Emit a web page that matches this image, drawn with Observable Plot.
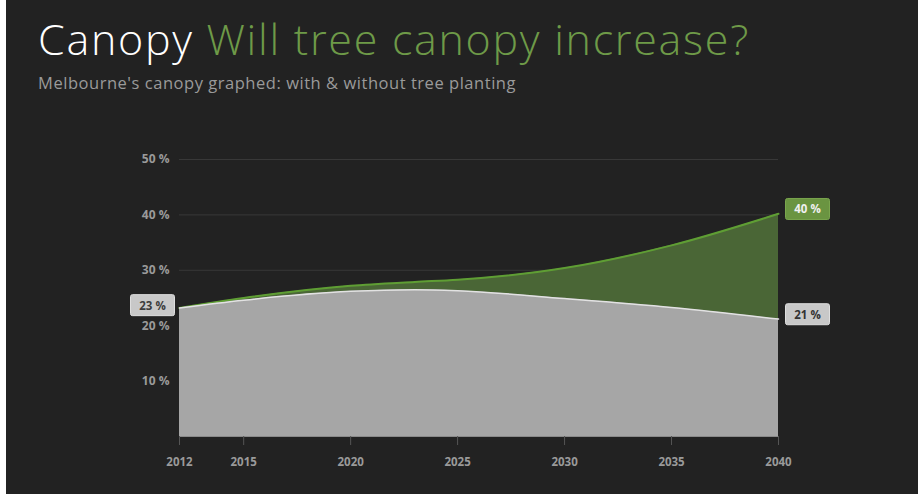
<!DOCTYPE html>
<html>
<head>
<meta charset="utf-8">
<script src="https://cdn.jsdelivr.net/npm/d3@7"></script>
<script src="https://cdn.jsdelivr.net/npm/@observablehq/plot@0.6"></script>
<style>
  html, body { margin: 0; padding: 0; background: #ffffff; }
  #frame { position: absolute; left: 6px; top: 0; width: 912px; height: 494px; background: #222222; overflow: hidden; }
  #title { position: absolute; left: 32px; top: 9px; font-family: "Open Sans", Lato, sans-serif; font-weight: 300; font-size: 43px; color: #ffffff; white-space: nowrap; }
  #title .q { color: #6e9a48; }
  #subtitle { position: absolute; left: 32px; top: 71px; font-family: "Open Sans", Lato, sans-serif; font-weight: 400; font-size: 16.5px; color: #9a9a9a; white-space: nowrap; }
  #chart { position: absolute; left: 0; top: 0; }
</style>
</head>
<body>
<div id="frame">
  <div id="title">Canopy <span class="q">Will tree canopy increase?</span></div>
  <div id="subtitle">Melbourne's canopy graphed: with &amp; without tree planting</div>
  <div id="chart"></div>
</div>
<script>
const years = [2012, 2015, 2020, 2023, 2025, 2030, 2035, 2040];
const withoutPlanting = [23.2, 24.6, 26.2, 26.5, 26.3, 24.9, 23.3, 21.2];
const withPlanting = [23.2, 25.0, 27.2, 27.9, 28.3, 30.4, 34.5, 40.2];
const xTicks = [2012, 2015, 2020, 2025, 2030, 2035, 2040];
const yTicks = [10, 20, 30, 40, 50];
const startLabel = ["23 %"];
const endLabels = ["40 %", "21 %"];

// fit title / subtitle widths to the reference
function fitWidth(el, target) {
  const w = el.getBoundingClientRect().width;
  const n = el.textContent.length;
  el.style.letterSpacing = ((target - w) / n) + "px";
}
fitWidth(document.getElementById("title"), 712);
fitWidth(document.getElementById("subtitle"), 478);

const rows = years.map((y, i) => ({year: y, without: withoutPlanting[i], with: withPlanting[i]}));
const first = rows[0];
const last = rows[rows.length - 1];
const labelsLeft = [{year: first.year, value: first.without, text: startLabel[0], bg: "#c8c8c8", border: "#dedede", fg: "#3c3c3c"}];
const labelsRight = [
  {year: last.year, value: last.with, text: endLabels[0], bg: "#6a9441", border: "#7aa64e", fg: "#f0f0f0"},
  {year: last.year, value: last.without, text: endLabels[1], bg: "#c8c8c8", border: "#dedede", fg: "#333333"}
];

const chart = Plot.plot({
  width: 912,
  height: 494,
  marginLeft: 173,
  marginRight: 140,
  marginTop: 159,
  marginBottom: 58,
  style: {background: "transparent", color: "#9a9a9a", fontFamily: "'Open Sans', sans-serif", fontSize: "12px", fontWeight: "700"},
  x: {domain: [2012, 2040], label: null},
  y: {domain: [0, 50], ticks: yTicks, tickFormat: d => `${d} %`, tickSize: 0, tickPadding: 10, label: null},
  marks: [
    Plot.gridY(yTicks, {stroke: "#383838", strokeOpacity: 1}),
    Plot.areaY(rows, {x: "year", y1: "without", y2: "with", fill: "#4a6636", curve: "monotone-x"}),
    Plot.lineY(rows, {x: "year", y: "with", stroke: "#5f9e34", strokeWidth: 2, curve: "monotone-x"}),
    Plot.areaY(rows, {x: "year", y: "without", fill: "#a6a6a6", curve: "monotone-x"}),
    Plot.lineY(rows, {x: "year", y: "without", stroke: "#e2e2e2", strokeWidth: 1.5, curve: "monotone-x"}),
    Plot.ruleY([0], {stroke: "#8a8a8a"}),
    Plot.axisX({ticks: xTicks, tickFormat: d => String(d), tickSize: 9, tickPadding: 12, stroke: "#555", fill: "#9a9a9a", fontSize: 11.5}),
    Plot.text(labelsLeft, {x: "year", y: "value", text: "text", dx: -27, dy: -2, fill: "fg", fontSize: 11.5, fontWeight: 700}),
    Plot.text(labelsRight, {x: "year", y: "value", text: "text", dx: 29, dy: -4, fill: "fg", fontSize: 11.5, fontWeight: 700})
  ]
});
document.getElementById("chart").appendChild(chart);

// draw boxes behind the value labels, sized from the rendered text
const allLabels = [...labelsLeft, ...labelsRight];
chart.querySelectorAll("text").forEach(t => {
  const d = allLabels.find(l => l.text === t.textContent);
  if (!d || t.closest('[aria-label*="axis"]')) return;
  const bb = t.getBBox();
  const w = 44, h = 21;
  const rect = document.createElementNS("http://www.w3.org/2000/svg", "rect");
  const tr = t.getAttribute("transform");
  if (tr) rect.setAttribute("transform", tr);
  rect.setAttribute("x", bb.x + bb.width / 2 - w / 2);
  rect.setAttribute("y", bb.y + bb.height / 2 - h / 2);
  rect.setAttribute("width", w);
  rect.setAttribute("height", h);
  rect.setAttribute("rx", 2);
  rect.setAttribute("fill", d.bg);
  rect.setAttribute("stroke", d.border);
  rect.setAttribute("stroke-width", 1);
  t.parentNode.insertBefore(rect, t);
});
</script>
</body>
</html>
